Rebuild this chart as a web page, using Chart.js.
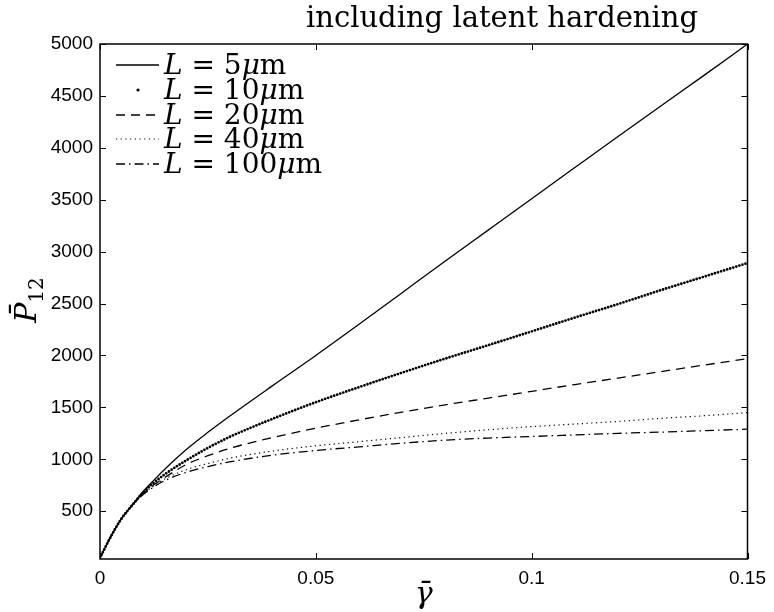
<!DOCTYPE html>
<html lang="en">
<head>
    <meta charset="UTF-8">
    <title>including latent hardening</title>
    <script src="https://cdn.jsdelivr.net/npm/chart.js"></script>
    <style>
        body { margin: 0; background: #fff; }
        canvas { display: block; }
    </style>
</head>
<body>
    <canvas id="hardeningChart" width="774" height="612"></canvas>

    <script>
        // shear strain values and resolved stress for each slip length L
        const gammaBar = [0, 0.0025, 0.005, 0.0075, 0.01, 0.0125, 0.015, 0.02, 0.025, 0.03, 0.04,
                          0.05, 0.06, 0.07, 0.08, 0.09, 0.1, 0.11, 0.12, 0.13, 0.14, 0.15];
        const P_L5   = [50, 255, 430, 560, 690, 800, 905, 1095, 1260, 1415, 1710,
                        2000, 2300, 2605, 2910, 3210, 3510, 3810, 4110, 4405, 4700, 5000];
        const P_L10  = [50, 255, 430, 560, 680, 775, 855, 990, 1110, 1215, 1390,
                        1550, 1695, 1835, 1970, 2100, 2232, 2365, 2495, 2630, 2760, 2890];
        const P_L20  = [50, 255, 430, 560, 670, 755, 825, 950, 1035, 1105, 1210,
                        1300, 1380, 1455, 1525, 1590, 1655, 1720, 1782, 1845, 1908, 1970];
        const P_L40  = [50, 255, 430, 560, 665, 745, 810, 900, 960, 1010, 1080,
                        1130, 1170, 1210, 1250, 1285, 1315, 1340, 1365, 1395, 1420, 1450];
        const P_L100 = [50, 255, 430, 560, 660, 735, 795, 875, 930, 975, 1040,
                        1085, 1120, 1155, 1185, 1205, 1220, 1235, 1250, 1262, 1276, 1290];
        const slipLengths = [5, 10, 20, 40, 100];
        const xTicks = [0, 0.05, 0.1, 0.15];
        const yTicks = [500, 1000, 1500, 2000, 2500, 3000, 3500, 4000, 4500, 5000];

        const series = [P_L5, P_L10, P_L20, P_L40, P_L100];
        const lineStyles = [
            { dash: [], width: 1.3, cap: 'butt' },
            { dash: [0, 3.2], width: 2.8, cap: 'round' },
            { dash: [9, 6], width: 1.3, cap: 'butt' },
            { dash: [1.2, 3.5], width: 1.2, cap: 'butt' },
            { dash: [9, 4, 1.5, 4], width: 1.3, cap: 'butt' }
        ];

        const datasets = series.map((vals, i) => ({
            label: 'L = ' + slipLengths[i] + 'μm',
            data: vals.map((v, j) => ({ x: gammaBar[j], y: v })),
            borderColor: '#000',
            borderWidth: lineStyles[i].width,
            borderDash: lineStyles[i].dash,
            borderCapStyle: lineStyles[i].cap,
            pointRadius: 0,
            cubicInterpolationMode: 'monotone',
            fill: false
        }));

        const tickFont = { family: "'Liberation Sans', Arial, sans-serif", size: 19 };

        // box, inward tick marks, title, axis labels and legend
        const decorations = {
            id: 'decorations',
            beforeDraw(chart) {
                const c = chart.ctx;
                c.save();
                c.fillStyle = '#fff';
                c.fillRect(0, 0, chart.width, chart.height);
                c.restore();
            },
            afterDraw(chart) {
                const c = chart.ctx;
                const a = chart.chartArea;
                const xs = chart.scales.x, ys = chart.scales.y;
                c.save();
                c.strokeStyle = '#000';
                c.lineWidth = 1.5;
                c.strokeRect(a.left, a.top, a.right - a.left, a.bottom - a.top);

                c.lineWidth = 1;
                c.beginPath();
                xTicks.forEach(v => {
                    const px = Math.round(xs.getPixelForValue(v)) + 0.5;
                    c.moveTo(px, a.bottom); c.lineTo(px, a.bottom - 6);
                    c.moveTo(px, a.top); c.lineTo(px, a.top + 6);
                });
                yTicks.forEach(v => {
                    const py = Math.round(ys.getPixelForValue(v)) + 0.5;
                    c.moveTo(a.left, py); c.lineTo(a.left + 6, py);
                    c.moveTo(a.right, py); c.lineTo(a.right - 6, py);
                });
                c.stroke();

                c.fillStyle = '#000';
                c.textBaseline = 'alphabetic';

                // title
                c.font = "29px 'DejaVu Serif', serif";
                c.textAlign = 'center';
                c.fillText('including latent hardening', 502, 27);

                // x axis label
                c.font = "italic 30px 'DejaVu Serif', serif";
                c.fillText('γ̄', (a.left + a.right) / 2, 603);

                // y axis label, rotated
                c.save();
                c.translate(36, 300);
                c.rotate(-Math.PI / 2);
                c.textAlign = 'left';
                c.font = "italic 30px 'DejaVu Serif', serif";
                const pw = c.measureText('P̄').width;
                c.font = "20px 'DejaVu Serif', serif";
                const sw = c.measureText('12').width;
                const x0 = -(pw + sw) / 2;
                c.font = "italic 30px 'DejaVu Serif', serif";
                c.fillText('P̄', x0, 0);
                c.font = "20px 'DejaVu Serif', serif";
                c.fillText('12', x0 + pw, 7);
                c.restore();

                // legend
                const rowY = [65, 90, 115, 139, 164];
                c.textAlign = 'left';
                slipLengths.forEach((L, i) => {
                    const y = rowY[i];
                    const st = lineStyles[i];
                    c.save();
                    c.lineWidth = st.width;
                    c.setLineDash(st.dash);
                    c.lineCap = st.cap;
                    c.beginPath();
                    if (i === 1) {
                        c.arc(138, y, 1.6, 0, Math.PI * 2);
                        c.fill();
                    } else {
                        c.moveTo(116, y); c.lineTo(159, y);
                        c.stroke();
                    }
                    c.restore();

                    let tx = 164;
                    const base = y + 9;
                    const parts = [
                        ['italic', 'L'], ['', ' = ' + L], ['italic', 'μ'], ['', 'm']
                    ];
                    parts.forEach(([style, txt]) => {
                        c.font = (style ? style + ' ' : '') + "28px 'DejaVu Serif', serif";
                        c.fillText(txt, tx, base);
                        tx += c.measureText(txt).width;
                    });
                });
                c.restore();
            }
        };

        const ctx = document.getElementById('hardeningChart').getContext('2d');
        const hardeningChart = new Chart(ctx, {
            type: 'line',
            data: { datasets: datasets },
            options: {
                responsive: false,
                animation: false,
                devicePixelRatio: 1,
                layout: { padding: { left: 0, right: 22, top: 44, bottom: 0 } },
                plugins: {
                    legend: { display: false },
                    tooltip: { enabled: false }
                },
                scales: {
                    x: {
                        type: 'linear',
                        min: 0,
                        max: 0.15,
                        afterBuildTicks: s => { s.ticks = xTicks.map(v => ({ value: v })); },
                        afterFit: s => { s.height = 53; },
                        grid: { display: false, drawTicks: false },
                        border: { display: false },
                        ticks: {
                            font: tickFont,
                            color: '#000',
                            padding: 8,
                            maxRotation: 0,
                            autoSkip: false,
                            callback: v => String(v)
                        }
                    },
                    y: {
                        type: 'linear',
                        min: 40,
                        max: 5000,
                        afterBuildTicks: s => { s.ticks = yTicks.map(v => ({ value: v })); },
                        afterFit: s => { s.width = 100; },
                        grid: { display: false, drawTicks: false },
                        border: { display: false },
                        ticks: {
                            font: tickFont,
                            color: '#000',
                            padding: 7,
                            autoSkip: false,
                            callback: v => String(v)
                        }
                    }
                }
            },
            plugins: [decorations]
        });
    </script>
</body>
</html>
